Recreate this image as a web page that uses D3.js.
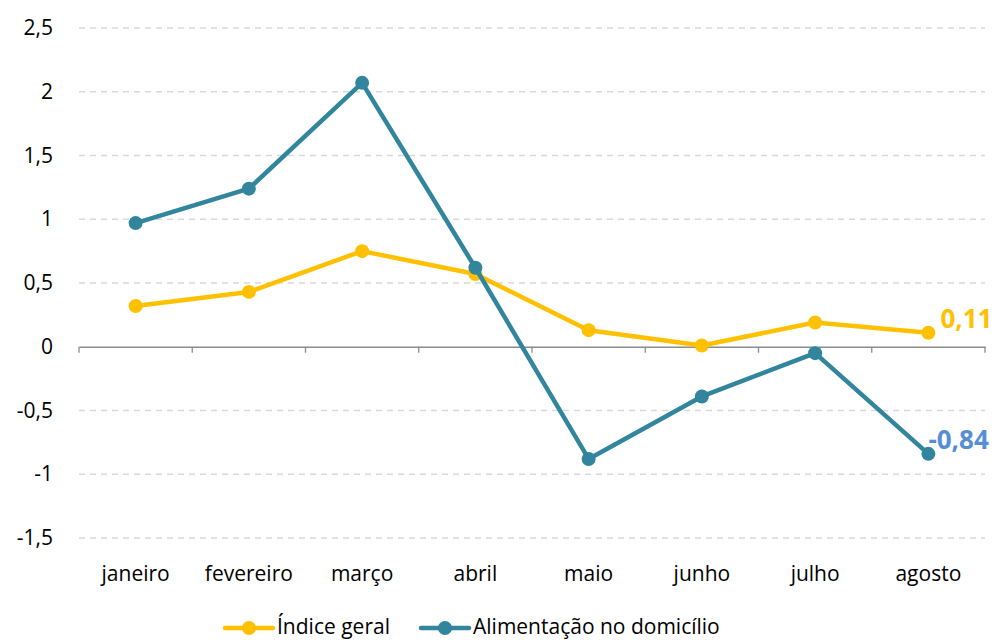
<!DOCTYPE html>
<html lang="pt">
<head>
  <meta charset="UTF-8">
  <title>Índice geral x Alimentação no domicílio</title>
  <script src="https://d3js.org/d3.v7.min.js"></script>
  <style>
    body { margin: 0; background: #fff; }
    text { font-family: "Open Sans", "Noto Sans", sans-serif; }
  </style>
</head>
<body>
  <svg width="998" height="641" id="chart"></svg>
  <script>
    const meses = ['janeiro', 'fevereiro', 'março', 'abril', 'maio', 'junho', 'julho', 'agosto'];
    const indiceGeral = [0.32, 0.43, 0.75, 0.57, 0.13, 0.01, 0.19, 0.11];
    const alimentacao = [0.97, 1.24, 2.07, 0.62, -0.88, -0.39, -0.05, -0.84];
    const yTicks = [-1.5, -1, -0.5, 0, 0.5, 1, 1.5, 2, 2.5];

    const series = [
      { name: 'Índice geral', values: indiceGeral, color: '#FFC000', labelColor: '#FFC000' },
      { name: 'Alimentação no domicílio', values: alimentacao, color: '#31859C', labelColor: '#558ED5' }
    ];

    const svg = d3.select('#chart');
    const plot = { left: 79, right: 985, top: 28, bottom: 538 };

    const x = d3.scaleBand().domain(meses).range([plot.left, plot.right]);
    const y = d3.scaleLinear().domain([-1.5, 2.5]).range([plot.bottom, plot.top]);
    const fmt = v => String(v).replace('.', ',');

    // linhas de grade tracejadas
    svg.append('g')
      .selectAll('line')
      .data(yTicks.filter(t => t !== 0))
      .join('line')
      .attr('x1', plot.left).attr('x2', plot.right)
      .attr('y1', d => y(d)).attr('y2', d => y(d))
      .attr('stroke', '#d9d9d9')
      .attr('stroke-width', 1.3)
      .attr('stroke-dasharray', '6,5');

    // eixo Y (só os rótulos)
    const yAxis = svg.append('g')
      .attr('transform', `translate(${plot.left},0)`)
      .call(d3.axisLeft(y).tickValues(yTicks).tickFormat(fmt).tickSize(0).tickPadding(26));
    yAxis.select('.domain').remove();
    yAxis.selectAll('text').attr('font-size', 21).attr('fill', '#000');

    // eixo X na linha do zero
    const xAxis = svg.append('g')
      .attr('transform', `translate(0,${y(0)})`)
      .call(d3.axisBottom(x).tickSize(0).tickFormat(''));
    xAxis.select('.domain').attr('stroke', '#8c8c8c').attr('stroke-width', 1.3);
    svg.append('g')
      .selectAll('line')
      .data(d3.range(meses.length + 1))
      .join('line')
      .attr('x1', i => plot.left + i * x.step()).attr('x2', i => plot.left + i * x.step())
      .attr('y1', y(0)).attr('y2', y(0) + 6)
      .attr('stroke', '#8c8c8c').attr('stroke-width', 1.3);

    // rótulos das categorias
    svg.append('g')
      .selectAll('text')
      .data(meses)
      .join('text')
      .attr('x', d => x(d) + x.bandwidth() / 2)
      .attr('y', 581)
      .attr('text-anchor', 'middle')
      .attr('font-size', 21)
      .text(d => d);

    const line = d3.line()
      .x((d, i) => x(meses[i]) + x.bandwidth() / 2)
      .y(d => y(d));

    series.forEach(s => {
      svg.append('path')
        .datum(s.values)
        .attr('d', line)
        .attr('fill', 'none')
        .attr('stroke', s.color)
        .attr('stroke-width', 4.5)
        .attr('stroke-linejoin', 'round');
      svg.append('g')
        .selectAll('circle')
        .data(s.values)
        .join('circle')
        .attr('cx', (d, i) => x(meses[i]) + x.bandwidth() / 2)
        .attr('cy', d => y(d))
        .attr('r', 7)
        .attr('fill', s.color);
      // rótulo do último valor
      const last = s.values[s.values.length - 1];
      svg.append('text')
        .attr('x', x(meses[meses.length - 1]) + x.bandwidth() / 2 + (last < 0 ? 0 : 12))
        .attr('y', y(last) - 5)
        .attr('font-size', 26)
        .attr('font-weight', 'bold')
        .attr('fill', s.labelColor)
        .text(fmt(last));
    });

    // legenda
    const legend = svg.append('g');
    const legendPos = [225, 421];
    series.forEach((s, i) => {
      const lx = legendPos[i];
      legend.append('line')
        .attr('x1', lx).attr('x2', lx + 48)
        .attr('y1', 628).attr('y2', 628)
        .attr('stroke', s.color).attr('stroke-width', 4.5).attr('stroke-linecap', 'round');
      legend.append('circle')
        .attr('cx', lx + 24).attr('cy', 628).attr('r', 7).attr('fill', s.color);
      legend.append('text')
        .attr('x', lx + 52).attr('y', 634)
        .attr('font-size', 21)
        .text(s.name);
    });
  </script>
</body>
</html>
